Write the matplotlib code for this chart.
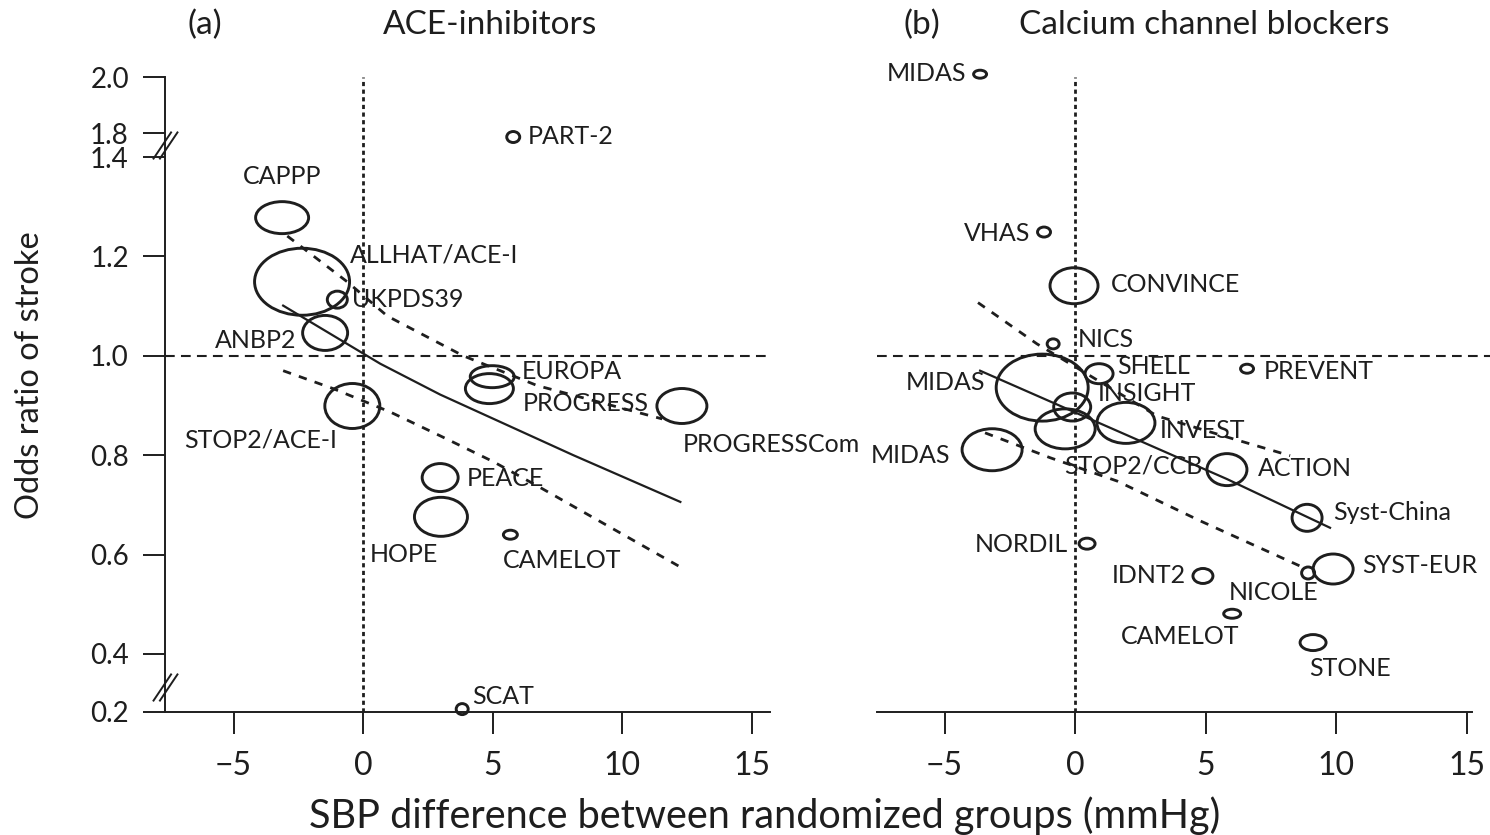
import numpy as np
import matplotlib.pyplot as plt
from matplotlib.collections import EllipseCollection
from matplotlib.path import Path

plt.rcParams['font.family'] = ['Lato', 'DejaVu Sans']
plt.rcParams['lines.scale_dashes'] = False

INK = '#1e1e1e'
PX = 0.72  # points per pixel at dpi 100

# (a) ACE-inhibitors: SBP difference (mmHg) vs odds ratio of stroke
ace_names = ['CAPPP', 'ALLHAT/ACE-I', 'UKPDS39', 'ANBP2', 'STOP2/ACE-I', 'EUROPA', 'PROGRESS',
             'PROGRESSCom', 'PEACE', 'HOPE', 'CAMELOT', 'SCAT', 'PART-2']
ace_sbp = [-3.13, -2.36, -1.0, -1.47, -0.42, 4.98, 4.87, 12.3, 2.97, 3.0, 5.68, 3.82, 5.79]
ace_or = [1.278, 1.149, 1.113, 1.046, 0.899, 0.958, 0.934, 0.899, 0.755, 0.676, 0.64, 0.21, 1.733]
# bubble size (trial weight), width / height
ace_w = [53, 95, 20, 45, 55, 44, 48, 50, 36, 53, 14, 12, 13]
ace_h = [32, 67, 17, 35, 45, 22, 30, 35, 28, 39, 9, 11, 11]

ace_fit_x = [-3.09, 0.66, 2.97, 8.11, 12.24]
ace_fit_or = [1.101, 0.984, 0.922, 0.800, 0.706]
ace_hi_x = [-2.93, -0.62, 0.93, 3.86, 6.72, 11.54]
ace_hi_or = [1.241, 1.149, 1.080, 1.000, 0.940, 0.873]
ace_lo_x = [-3.09, -1.16, 1.04, 2.97, 5.02, 6.83, 12.24]
ace_lo_or = [0.970, 0.934, 0.887, 0.839, 0.787, 0.735, 0.575]

# (b) Calcium channel blockers
ccb_names = ['MIDAS', 'VHAS', 'CONVINCE', 'NICS', 'SHELL', 'PREVENT', 'MIDAS', 'INSIGHT',
             'STOP2/CCB', 'INVEST', 'MIDAS', 'ACTION', 'Syst-China', 'SYST-EUR', 'NICOLE',
             'IDNT2', 'CAMELOT', 'STONE', 'NORDIL']
ccb_sbp = [-3.64, -1.19, -0.04, -0.84, 0.92, 6.59, -1.26, -0.11, -0.38, 1.95, -3.18, 5.82,
           8.89, 9.89, 8.93, 4.9, 6.02, 9.12, 0.46]
ccb_or = [2.01, 1.249, 1.141, 1.024, 0.964, 0.974, 0.936, 0.897, 0.853, 0.865, 0.811, 0.771,
          0.674, 0.571, 0.563, 0.557, 0.481, 0.423, 0.622]
ccb_w = [13, 13, 48, 12, 28, 13, 92, 37, 60, 58, 60, 40, 30, 40, 13, 20, 17, 26, 16]
ccb_h = [8, 10, 36, 10, 20, 9, 67, 28, 40, 41, 42, 32, 27, 30, 12, 15, 9, 16, 11]

ccb_fit_x = [-3.64, 5.82, 9.77]
ccb_fit_or = [0.970, 0.752, 0.654]
ccb_hi_x = [-3.72, -1.46, 3.14, 6.05, 8.24]
ccb_hi_or = [1.107, 1.024, 0.879, 0.833, 0.799]
ccb_lo_x = [-3.45, -0.96, 1.61, 4.79, 8.62]
ccb_lo_or = [0.845, 0.795, 0.748, 0.668, 0.577]

y_ticks = [0.2, 0.4, 0.6, 0.8, 1.0, 1.2, 1.4, 1.8, 2.0]
x_ticks = [-5, 0, 5, 10, 15]

# label placement: offset from the bubble in pixels (right, down) and alignment
ace_lab = [(0, -41, 'center'), (48, -27, 'left'), (15, 0, 'left'), (-29, 8, 'right'),
           (-15, 34, 'right'), (30, -5, 'left'), (33, 15, 'left'), (1, 39, 'left'),
           (27, 1, 'left'), (-71, 38, 'left'), (-8, 26, 'left'), (10, -13, 'left'),
           (15, -1, 'left')]
ccb_lab = [(-14, -1, 'right'), (-14, 1, 'right'), (37, -1, 'left'), (25, -4, 'left'),
           (18, -7, 'left'), (17, 3, 'left'), (-57, -5, 'right'), (26, -13, 'left'),
           (-1, 37, 'left'), (34, 8, 'left'), (-42, 6, 'right'), (31, -1, 'left'),
           (26, -5, 'left'), (29, -4, 'left'), (10, 20, 'right'), (-17, 0, 'right'),
           (-52, 23, 'center'), (37, 26, 'center'), (-19, 1, 'right')]

# broken odds-ratio axis: piecewise linear between the knots
or_knots = [0.0, 0.2, 0.4, 1.4, 1.8, 2.0, 2.6]
pos_knots = [-58, 0, 58, 555, 579, 635, 803]


def fwd(v):
    return np.interp(v, or_knots, pos_knots)


def inv(p):
    return np.interp(p, pos_knots, or_knots)


fig = plt.figure(figsize=(14.9, 8.35), dpi=100)
ax1 = fig.add_axes([165 / 1490, 123 / 835, 605 / 1490, 697 / 835])
ax2 = fig.add_axes([877 / 1490, 123 / 835, 613 / 1490, 697 / 835], sharey=ax1)

ytop = inv(697)


def draw_panel(ax, names, sbp, odds, w, h, labs, fit, hi, lo):
    ax.set_yscale('function', functions=(fwd, inv))
    ax.set_ylim(0.2, ytop)

    ec = EllipseCollection(np.array(w) * PX, np.array(h) * PX, np.zeros(len(w)),
                           units='points', offsets=np.column_stack([sbp, odds]),
                           offset_transform=ax.transData, facecolors='none',
                           edgecolors=INK, linewidths=2.1, zorder=3)
    ec.set_clip_on(False)
    ax.add_collection(ec, autolim=False)

    for name, x, y, (dx, dy, ha) in zip(names, sbp, odds, labs):
        ax.annotate(name, (x, y), xytext=(dx * PX, -dy * PX), textcoords='offset points',
                    ha=ha, va='center', fontsize=18, color=INK, zorder=4)

    ax.plot(fit[0], fit[1], color=INK, lw=1.6, zorder=2)
    for xs, ys in (hi, lo):
        ax.plot(xs, ys, color=INK, lw=2.0, ls=(0, (6, 6)), zorder=2)

    ax.axhline(1.0, color=INK, lw=1.5, ls=(0, (7, 4.5)), zorder=1)
    ax.vlines(0, 0.2, 2.0, color=INK, lw=2.0, ls=(0, (3, 2.5)), zorder=1)

    ax.set_xticks(x_ticks)
    ax.set_xticklabels([f'{t:d}'.replace('-', '\u2212') for t in x_ticks])
    ax.tick_params(axis='x', direction='out', length=16, width=1.4, pad=12,
                   labelsize=23, colors=INK)
    for s in ('top', 'right'):
        ax.spines[s].set_visible(False)
    ax.spines['bottom'].set_linewidth(1.4)
    ax.spines['bottom'].set_color(INK)


draw_panel(ax1, ace_names, ace_sbp, ace_or, ace_w, ace_h, ace_lab,
           (ace_fit_x, ace_fit_or), (ace_hi_x, ace_hi_or), (ace_lo_x, ace_lo_or))
draw_panel(ax2, ccb_names, ccb_sbp, ccb_or, ccb_w, ccb_h, ccb_lab,
           (ccb_fit_x, ccb_fit_or), (ccb_hi_x, ccb_hi_or), (ccb_lo_x, ccb_lo_or))

ax1.set_xlim(-7.65, 15.7)
ax2.set_xlim(-7.59, 15.9)
ax2.spines['bottom'].set_bounds(-7.59, 15.2)

# y axis only on the left panel
ax1.set_yticks(y_ticks)
ax1.set_yticklabels([f'{t:.1f}' for t in y_ticks])
ax1.tick_params(axis='y', direction='out', length=16, width=1.4, pad=10,
                labelsize=20, colors=INK)
ax1.spines['left'].set_bounds(0.2, 2.0)
ax1.spines['left'].set_linewidth(1.4)
ax1.spines['left'].set_color(INK)
ax2.spines['left'].set_visible(False)
ax2.tick_params(axis='y', left=False, labelleft=False)

# axis break marks
brk = Path([(-0.45, -0.5), (0.22, 0.5), (-0.22, -0.5), (0.45, 0.5)],
           [Path.MOVETO, Path.LINETO, Path.MOVETO, Path.LINETO])
ax1.plot([0, 0], [1.6, 0.286], transform=ax1.get_yaxis_transform(), ls='none',
         marker=brk, markersize=20, mfc='none', mec=INK, mew=1.4, clip_on=False, zorder=5)

fig.text(205 / 1490, 1 - 25 / 835, '(a)', ha='center', va='center', fontsize=24, color=INK)
fig.text(490 / 1490, 1 - 25 / 835, 'ACE-inhibitors', ha='center', va='center', fontsize=24, color=INK)
fig.text(922 / 1490, 1 - 25 / 835, '(b)', ha='center', va='center', fontsize=24, color=INK)
fig.text(1204 / 1490, 1 - 25 / 835, 'Calcium channel blockers', ha='center', va='center',
         fontsize=24, color=INK)

fig.text(30 / 1490, 1 - 375 / 835, 'Odds ratio of stroke', rotation=90, ha='center',
         va='center', fontsize=23.5, color=INK)
fig.text(765 / 1490, 1 - 816 / 835, 'SBP difference between randomized groups (mmHg)',
         ha='center', va='center', fontsize=28.5, color=INK)

fig.savefig('out.png', dpi=100, facecolor='white')
